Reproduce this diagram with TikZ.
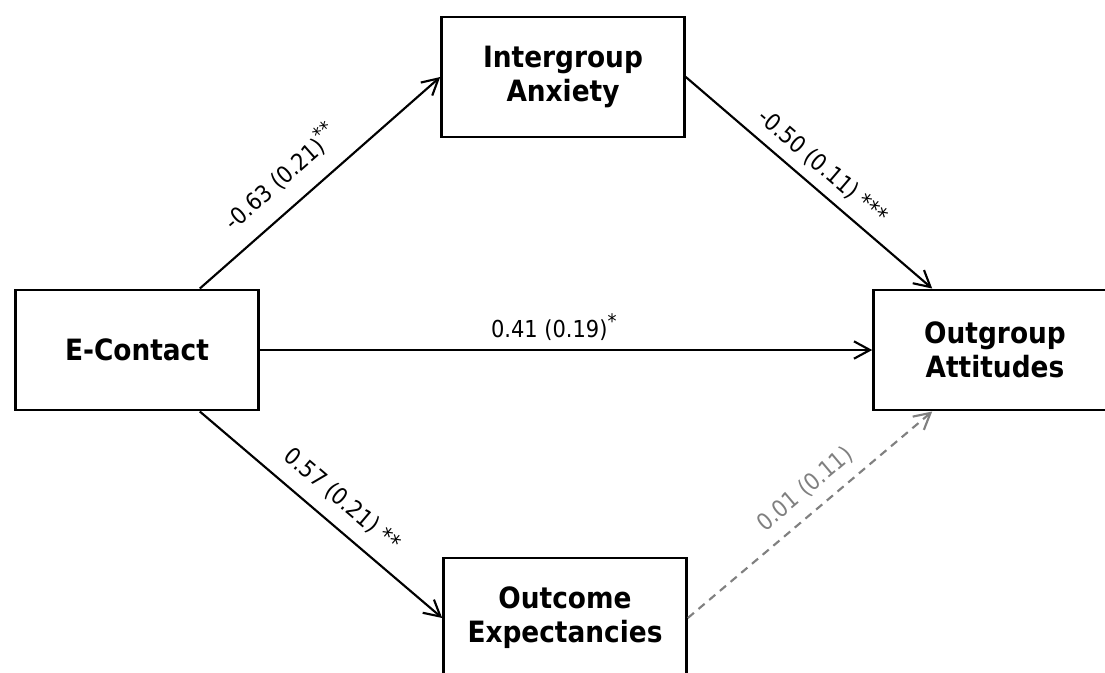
\documentclass[tikz,border=0pt]{standalone}
\usepackage{fontspec}
\setmainfont{DejaVu Sans Condensed}
\usetikzlibrary{arrows.meta, positioning}

\newcommand{\sig}[1]{\raisebox{0.4em}{\fontsize{15}{15}\selectfont #1}}

\begin{document}
\begin{tikzpicture}[
        x=0.75pt, y=-0.75pt,
        var/.style={draw, line width=2.2pt, minimum width=182pt, minimum height=90pt,
            align=center, font=\fontsize{22}{25.5}\selectfont\bfseries},
        effect/.style={line width=1.6pt, -{Straight Barb[length=12pt, width=13pt]}},
        weak/.style={effect, gray, dash pattern=on 6pt off 4.5pt},
        coef/.style={sloped, font=\fontsize{17.5}{20}\selectfont}
    ]
    \useasboundingbox (0,0) rectangle (1105,672);

    % Variables
    \node[var] (econtact) at (137,350) {E-Contact};
    \node[var] (anxiety) at (563,77) {Intergroup\\Anxiety};
    \node[var] (attitudes) at (995,350) {Outgroup\\Attitudes};
    \node[var] (expect) at (565,618) {Outcome\\Expectancies};

    % Paths via intergroup anxiety
    \draw[effect] ([xshift=-45pt]econtact.north east) -- (anxiety.west)
        node[coef, pos=0.42, above=9pt] {-0.63 (0.21)\sig{**}};
    \draw[effect] (anxiety.east) -- ([xshift=45pt]attitudes.north west)
        node[coef, pos=0.5, above=4pt] {-0.50 (0.11) ***};

    % Direct path
    \draw[effect] (econtact.east) -- (attitudes.west)
        node[coef, pos=0.48, above=3pt] {0.41 (0.19)\sig{*}};

    % Paths via outcome expectancies
    \draw[effect] ([xshift=-45pt]econtact.south east) -- (expect.west)
        node[coef, pos=0.52, above=7pt] {0.57 (0.21) **};
    \draw[weak] (expect.east) -- ([xshift=45pt]attitudes.south west)
        node[coef, pos=0.54, above=5pt] {0.01 (0.11)};

\end{tikzpicture}
\end{document}
